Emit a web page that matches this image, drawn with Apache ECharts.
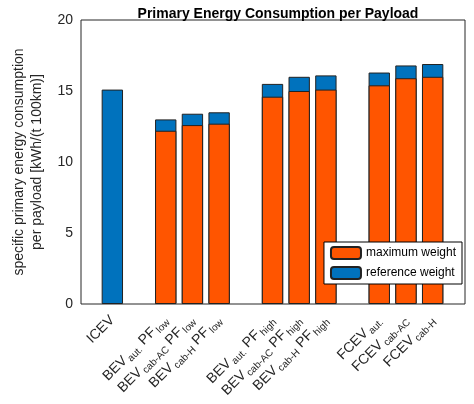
<!DOCTYPE html>
<html><head><meta charset="utf-8">
<script src="https://cdn.jsdelivr.net/npm/echarts@6/dist/echarts.min.js"></script>
<style>html,body{margin:0;padding:0;background:#fff}#c{width:474px;height:404px}</style>
</head><body><div id="c"></div>
<script>
var categories = ['ICEV|', '', 'BEV|aut.|PF|low', 'BEV|cab-AC|PF|low', 'BEV|cab-H|PF|low', '',
  'BEV|aut.|PF|high', 'BEV|cab-AC|PF|high', 'BEV|cab-H|PF|high', '',
  'FCEV|aut.', 'FCEV|cab-AC', 'FCEV|cab-H'];
var referenceWeight = [15.1, '-', 13.0, 13.4, 13.5, '-', 15.5, 16.0, 16.1, '-', 16.3, 16.8, 16.9];
var maximumWeight = ['-', '-', 12.2, 12.6, 12.7, '-', 14.6, 15.0, 15.1, '-', 15.4, 15.9, 16.0];
var yTicks = [0, 5, 10, 15, 20];

function fmt(v) {
  if (!v) return '';
  var p = v.split('|');
  var s = '{m|' + p[0] + '}';
  if (p[1]) s += '{s|' + p[1] + '}';
  if (p[2]) s += '{m| ' + p[2] + '}{s|' + p[3] + '}';
  return s;
}

var chart = echarts.init(document.getElementById('c'));
chart.setOption({
  animation: false,
  title: { text: 'Primary Energy Consumption per Payload', left: 273, top: 2, textAlign: 'center',
    textStyle: { fontFamily: 'Arial, Liberation Sans', fontSize: 14, fontWeight: 'bold', color: '#000' } },
  grid: { left: 99, right: 28, top: 20, bottom: 100 },
  legend: {
    right: 12, bottom: 120, orient: 'vertical', itemWidth: 30, itemHeight: 12, itemGap: 6,
    borderColor: '#000', borderWidth: 1, backgroundColor: '#fff', padding: [4, 6],
    textStyle: { fontFamily: 'Arial, Liberation Sans', fontSize: 12, color: '#000' },
    data: ['maximum weight', 'reference weight']
  },
  xAxis: {
    type: 'category', data: categories,
    axisLine: { show: false }, axisTick: { show: false },
    axisLabel: { rotate: 45, interval: 0, margin: 14, formatter: fmt,
      rich: { m: { fontFamily: 'Arial, Liberation Sans', fontSize: 14, color: '#262626' },
              s: { fontFamily: 'Arial, Liberation Sans', fontSize: 10, color: '#262626', padding: [8, 0, 0, 2] } } }
  },
  yAxis: {
    type: 'value', min: 0, max: 20, interval: 5,
    name: 'specific primary energy consumption\nper payload [kWh/(t 100km)]', nameLocation: 'middle', nameGap: 48,
    nameTextStyle: { fontFamily: 'Arial, Liberation Sans', fontSize: 14, color: '#262626', lineHeight: 18 },
    axisLine: { show: false }, axisTick: { show: false },
    axisLabel: { fontFamily: 'Arial, Liberation Sans', fontSize: 14, color: '#262626', margin: 26,
      formatter: function (v) { return yTicks.indexOf(v) >= 0 ? v : ''; } },
    splitLine: { show: false }
  },
  series: [
    { name: 'reference weight', type: 'bar', data: referenceWeight, barWidth: '80%', barGap: '-100%',
      itemStyle: { color: '#0072BD', borderColor: '#222', borderWidth: 1 } },
    { name: 'maximum weight', type: 'bar', data: maximumWeight, barWidth: '80%',
      itemStyle: { color: '#FF5500', borderColor: '#222', borderWidth: 1 } }
  ],
  graphic: [{ type: 'rect', shape: { x: 81, y: 20, width: 384, height: 284 },
    style: { fill: 'none', stroke: '#262626', lineWidth: 1 }, silent: true }]
});
</script></body></html>
